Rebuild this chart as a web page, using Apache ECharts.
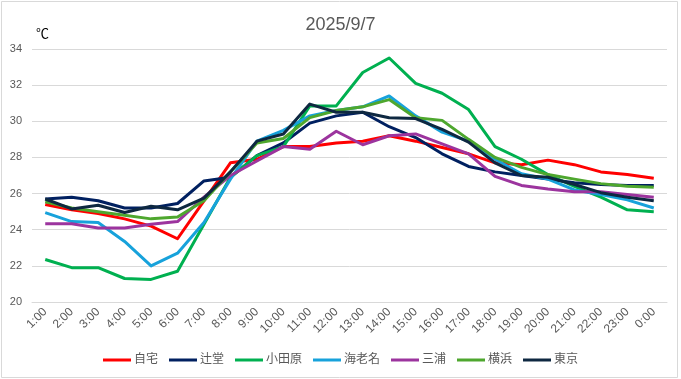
<!DOCTYPE html>
<html>
<head>
<meta charset="utf-8">
<script src="https://cdn.jsdelivr.net/npm/echarts@6/dist/echarts.min.js"></script>
<style>
html,body{margin:0;padding:0;background:#fff;}
#chart{width:681px;height:379px;}
</style>
</head>
<body>
<div id="chart"></div>
<script>
const categories = ['1:00','2:00','3:00','4:00','5:00','6:00','7:00','8:00','9:00','10:00','11:00','12:00','13:00','14:00','15:00','16:00','17:00','18:00','19:00','20:00','21:00','22:00','23:00','0:00'];
const seriesNames = ['自宅','辻堂','小田原','海老名','三浦','横浜','東京'];
const jitaku   = [25.4, 25.1, 24.9, 24.6, 24.2, 23.5, 25.6, 27.7, 27.9, 28.6, 28.6, 28.8, 28.9, 29.2, 28.9, 28.55, 28.2, 27.7, 27.6, 27.85, 27.6, 27.2, 27.05, 26.85];
const tsujido  = [25.7, 25.8, 25.6, 25.2, 25.2, 25.45, 26.7, 26.9, 28.1, 28.8, 29.9, 30.3, 30.5, 29.7, 29.1, 28.2, 27.5, 27.2, 27.0, 26.8, 26.6, 26.5, 26.45, 26.45];
const odawara  = [22.35, 21.9, 21.9, 21.3, 21.25, 21.7, 24.3, 26.9, 28.1, 28.6, 30.85, 30.85, 32.7, 33.5, 32.1, 31.55, 30.65, 28.6, 27.9, 27.05, 26.4, 25.8, 25.1, 25.0];
const ebina    = [24.95, 24.45, 24.4, 23.35, 22.0, 22.7, 24.4, 26.8, 28.9, 29.5, 30.3, 30.6, 30.8, 31.4, 30.3, 29.4, 28.9, 27.9, 27.1, 26.8, 26.2, 25.95, 25.65, 25.2];
const miura    = [24.33, 24.33, 24.1, 24.1, 24.3, 24.45, 25.8, 27.0, 27.8, 28.6, 28.45, 29.45, 28.7, 29.2, 29.3, 28.75, 28.2, 26.95, 26.45, 26.25, 26.1, 26.1, 25.95, 25.8];
const yokohama = [25.55, 25.2, 25.0, 24.8, 24.6, 24.7, 25.6, 27.2, 28.8, 29.05, 30.2, 30.6, 30.8, 31.2, 30.2, 30.05, 29.0, 28.0, 27.45, 27.05, 26.8, 26.55, 26.4, 26.35];
const tokyo    = [25.7, 25.15, 25.35, 24.95, 25.3, 25.1, 25.75, 27.2, 28.9, 29.3, 30.95, 30.5, 30.5, 30.2, 30.15, 29.55, 28.85, 27.7, 27.0, 26.9, 26.5, 26.05, 25.8, 25.6];
const yTicks = {min: 20, max: 34, interval: 2};
const titleText = '2025/9/7';
const unitText = '℃';

const allData = [jitaku, tsujido, odawara, ebina, miura, yokohama, tokyo];
const colors = ['#FF0000', '#002060', '#00B050', '#17A2DB', '#9C349E', '#4EA72E', '#0E2841'];

const chart = echarts.init(document.getElementById('chart'), null, {renderer: 'canvas'});
const font = '"Liberation Sans", Arial, "Noto Sans CJK JP", sans-serif';
chart.setOption({
  animation: false,
  backgroundColor: '#fff',
  color: colors,
  title: {
    text: titleText,
    left: 'center',
    top: 11,
    textStyle: {fontSize: 18, fontWeight: 'normal', color: '#595959', fontFamily: font}
  },
  graphic: [
    {type: 'rect', shape: {x: 1.5, y: 1.5, width: 676, height: 376}, style: {fill: 'none', stroke: '#d9d9d9', lineWidth: 1}, silent: true},
    {type: 'text', left: 36, top: 28, style: {text: unitText, fontSize: 13, fill: '#000', fontFamily: font}}
  ],
  legend: {
    data: seriesNames,
    bottom: 8,
    left: 'center',
    icon: 'rect',
    itemWidth: 28,
    itemHeight: 3,
    itemGap: 11,
    textStyle: {fontSize: 12, color: '#595959', fontFamily: font, padding: [0, 0, 0, -2]}
  },
  grid: {left: 32, right: 14, top: 49, bottom: 77, containLabel: false},
  xAxis: {
    type: 'category',
    data: categories,
    boundaryGap: true,
    axisLine: {show: true, lineStyle: {color: '#d9d9d9', width: 1}},
    axisTick: {show: false},
    axisLabel: {rotate: 45, interval: 0, margin: 8, fontSize: 12, color: '#595959', fontFamily: font}
  },
  yAxis: {
    type: 'value',
    min: yTicks.min,
    max: yTicks.max,
    interval: yTicks.interval,
    axisLine: {show: false},
    axisTick: {show: false},
    splitLine: {lineStyle: {color: '#d9d9d9', width: 1}},
    axisLabel: {margin: 10, fontSize: 11, color: '#595959', fontFamily: font}
  },
  series: seriesNames.map((name, i) => ({
    name: name,
    type: 'line',
    data: allData[i],
    showSymbol: false,
    symbol: 'none',
    lineStyle: {width: 3, color: colors[i], join: 'round'},
    itemStyle: {color: colors[i]}
  }))
});
</script>
</body>
</html>
